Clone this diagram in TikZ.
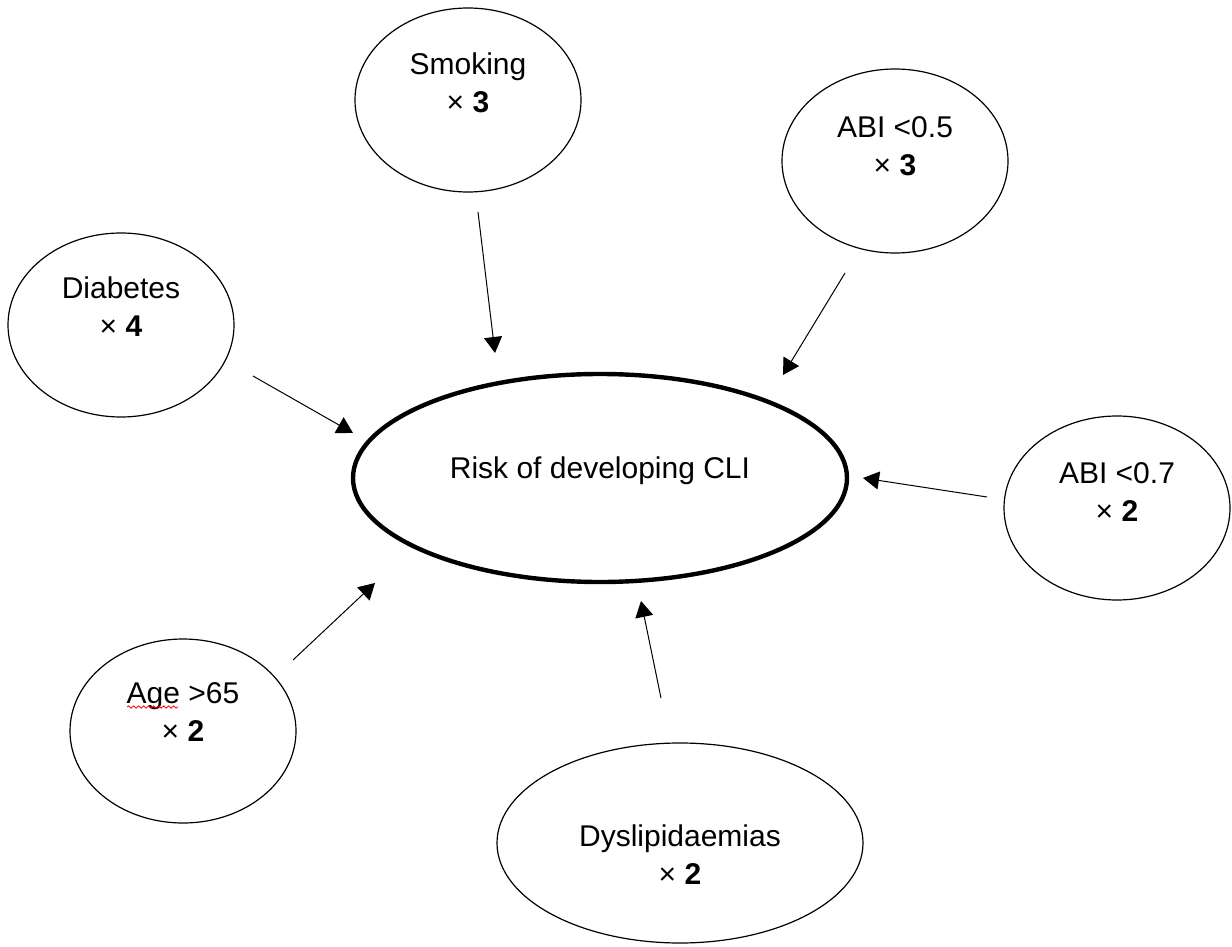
\documentclass[tikz,border=0pt]{standalone}
\usepackage{fontspec}
\setmainfont{Liberation Sans}
\usetikzlibrary{arrows.meta,shapes.geometric,decorations.pathmorphing}

\begin{document}
\begin{tikzpicture}[x=0.5pt,y=-0.5pt,font=\fontsize{15}{19}\selectfont]
\tikzstyle{factor}=[ellipse,draw=black,line width=0.6pt,minimum width=113pt,minimum height=92pt,inner sep=0pt]
\tikzstyle{outcome}=[ellipse,draw=black,line width=2.2pt,minimum width=247pt,minimum height=104pt,inner sep=0pt]
\tikzstyle{factortext}=[align=center,inner sep=0pt]
\tikzstyle{raises}=[-{Triangle[length=8pt,width=9pt]},line width=0.5pt]
\tikzstyle{spellwave}=[red,line width=0.4pt,decorate,decoration={snake,segment length=2.5pt,amplitude=0.6pt}]

\useasboundingbox (0,0) rectangle (1232,947);

% outcome
\node[outcome] (risk) at (600,478) {};
\node (risktext) at (600,471) {Risk of developing CLI};

% risk factors
\node[factor] (smoking) at (468,100) {};
\node[factor] (abilow) at (895,161) {};
\node[factor] (diabetes) at (121,325) {};
\node[factor] (abimid) at (1117,508) {};
\node[factor] (age) at (183,731) {};
\node[factor, minimum width=183pt, minimum height=100pt] (lipids) at (680,843) {};

\node[factortext] (smokingtext) at (468,83) {Smoking\\× \textbf{3}};
\node[factortext] (abilowtext) at (895,146) {ABI <0.5\\× \textbf{3}};
\node[factortext] (diabetestext) at (121,307) {Diabetes\\× \textbf{4}};
\node[factortext] (abimidtext) at (1117,492) {ABI <0.7\\× \textbf{2}};
\node[factortext] (agetext) at (183,712) {Age >65\\× \textbf{2}};
\node[factortext] (lipidstext) at (680,855) {Dyslipidaemias\\× \textbf{2}};

\draw[spellwave] (127,707) -- (178,707);

% arrow ends
\coordinate (smokingout) at (478,212);
\coordinate (smokingin) at (495,353);
\coordinate (abilowout) at (845,273);
\coordinate (abilowin) at (783,375);
\coordinate (diabetesout) at (253,376);
\coordinate (diabetesin) at (353,433);
\coordinate (abimidout) at (987,497);
\coordinate (abimidin) at (863,478);
\coordinate (ageout) at (293,660);
\coordinate (agein) at (375,583);
\coordinate (lipidsout) at (661,698);
\coordinate (lipidsin) at (641,601);

\draw[raises] (smokingout) -- (smokingin);
\draw[raises] (abilowout) -- (abilowin);
\draw[raises] (diabetesout) -- (diabetesin);
\draw[raises] (abimidout) -- (abimidin);
\draw[raises] (ageout) -- (agein);
\draw[raises] (lipidsout) -- (lipidsin);
\end{tikzpicture}
\end{document}
